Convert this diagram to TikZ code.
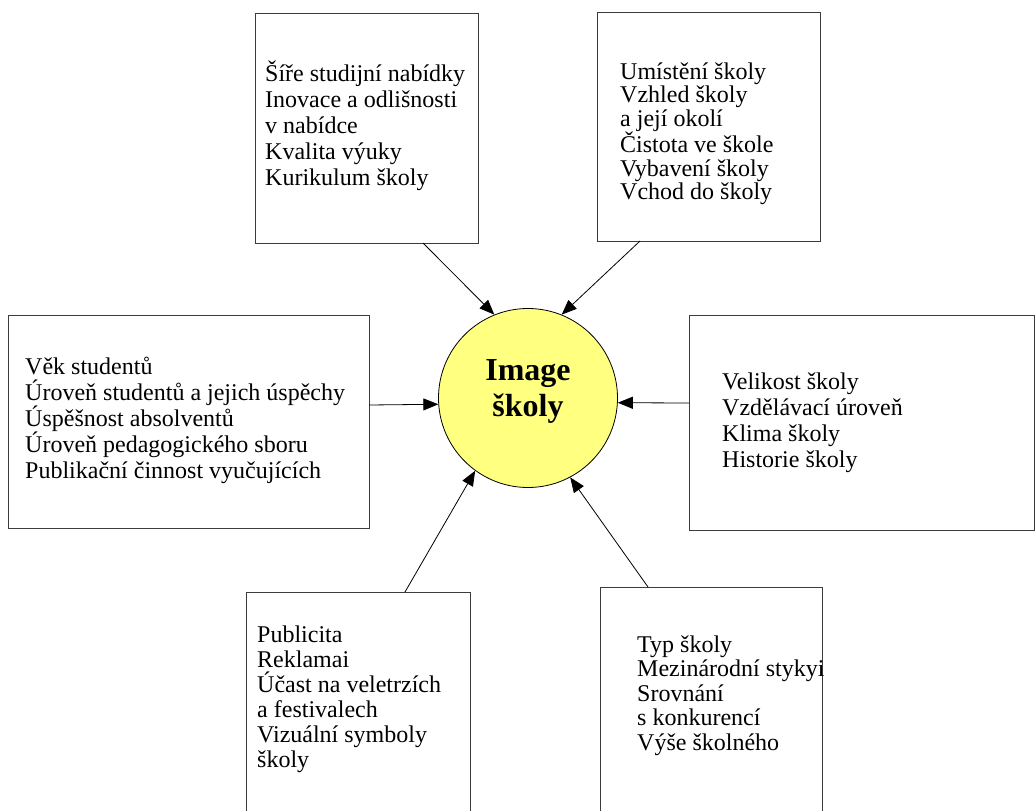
\documentclass[tikz,border=0pt]{standalone}
\usepackage{fontspec}
\setmainfont{Liberation Serif}
\usetikzlibrary{arrows.meta}
\definecolor{circfill}{RGB}{255,255,128}
\definecolor{boxline}{RGB}{60,60,60}
\newcommand\mylines[1]{\vtop{\halign{##\hfil\cr#1\crcr}}}
\begin{document}
\begin{tikzpicture}[x=1pt,y=-1pt,
  box/.style={draw=boxline, line width=1.3pt, anchor=north west, inner sep=0pt},
  lbl/.style={anchor=base west, inner sep=0pt, font=\fontsize{24}{26}\selectfont},
  arr/.style={draw=black, line width=0.8pt, -{Triangle[length=15pt,width=12pt]}}]
\useasboundingbox (0,0) rectangle (1036,811);
% boxes
\node[box, minimum width=223pt, minimum height=230pt] (tlbox) at (255,13) {};
\node[box, minimum width=223pt, minimum height=229pt] (trbox) at (597,12) {};
\node[box, minimum width=361pt, minimum height=213pt] (lbox) at (8,315) {};
\node[box, minimum width=345pt, minimum height=215pt] (rbox) at (689,315) {};
\node[box, minimum width=224pt, minimum height=240pt] (blbox) at (246,592) {};
\node[box, minimum width=222pt, minimum height=245pt] (brbox) at (600,587) {};
% texts
\node[lbl] (tltext) at (265,81) {\mylines{Šíře studijní nabídky\cr Inovace a odlišnosti\cr v nabídce\cr Kvalita výuky\cr Kurikulum školy}};
\node[lbl, font=\fontsize{24}{23.5}\selectfont] (trtext) at (620,79) {\mylines{Umístění školy\cr Vzhled školy\cr a její okolí\cr Čistota ve škole\cr Vybavení školy\cr Vchod do školy}};
\node[lbl] (ltext) at (25,374) {\mylines{Věk studentů\cr Úroveň studentů a jejich úspěchy\cr Úspěšnost absolventů\cr Úroveň pedagogického sboru\cr Publikační činnost vyučujících}};
\node[lbl] (rtext) at (722,389) {\mylines{Velikost školy\cr Vzdělávací úroveň\cr Klima školy\cr Historie školy}};
\node[lbl, font=\fontsize{24}{25}\selectfont] (bltext) at (257,642) {\mylines{Publicita\cr Reklamai\cr Účast na veletrzích\cr a festivalech\cr Vizuální symboly\cr školy}};
\node[lbl, font=\fontsize{24}{24.5}\selectfont] (brtext) at (637,652) {\mylines{Typ školy\cr Mezinárodní stykyi\cr Srovnání\cr s konkurencí\cr Výše školného}};
% circle
\node[circle, draw=black, line width=0.8pt, fill=circfill, minimum size=179pt, inner sep=0pt] (c) at (528,398) {};
\node[font=\bfseries\fontsize{32}{36}\selectfont, align=center, inner sep=0pt] (ctext) at (528,391) {Image\\školy};
% connector start points
\coordinate (s1) at (423,243);
\coordinate (s2) at (640,241);
\coordinate (s3) at (369,405);
\coordinate (s4) at (689,403);
\coordinate (s5) at (405,592);
\coordinate (s6) at (648,587);
\draw[arr] (s1) -- (c.112.7);
\draw[arr] (s2) -- (c.68.9);
\draw[arr] (s3) -- (c.184.5);
\draw[arr] (s4) -- (c.-3.2);
\draw[arr] (s5) -- (c.234.8);
\draw[arr] (s6) -- (c.298);
\end{tikzpicture}
\end{document}
